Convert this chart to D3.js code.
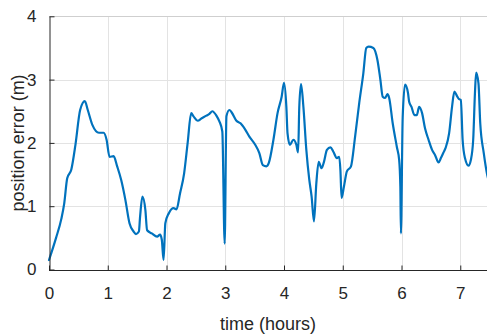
<!DOCTYPE html>
<html>
<head>
<meta charset="utf-8">
<script src="https://cdn.jsdelivr.net/npm/d3@7"></script>
<style>
  html, body { margin: 0; padding: 0; background: #fff; }
  svg { display: block; }
  text { font-family: "Liberation Sans", Arial, Helvetica, sans-serif; fill: #262626; }
</style>
</head>
<body>
<svg id="chart" width="487" height="335"></svg>
<script>
// Elapsed time in hours
const hours = [
  0.00, 0.12, 0.21, 0.26, 0.31, 0.38, 0.45, 0.53, 0.61, 0.66, 0.74, 0.85, 0.93, 0.98,
  1.03, 1.10, 1.16, 1.23, 1.30, 1.37, 1.44, 1.48, 1.53, 1.55, 1.59, 1.64, 1.67, 1.75,
  1.84, 1.89, 1.92, 1.95, 1.98, 2.04, 2.12, 2.17, 2.23, 2.30, 2.36, 2.42, 2.46, 2.53,
  2.60, 2.68, 2.73, 2.78, 2.85, 2.90, 2.95, 2.99, 3.02, 3.07, 3.11, 3.19, 3.26, 3.34,
  3.41, 3.51, 3.58, 3.64, 3.70, 3.74, 3.82, 3.89, 3.96, 4.00, 4.04, 4.06, 4.10, 4.16,
  4.21, 4.24, 4.26, 4.29, 4.33, 4.38, 4.43, 4.47, 4.51, 4.55, 4.59, 4.64, 4.68, 4.73,
  4.79, 4.84, 4.90, 4.94, 4.96, 4.98, 5.02, 5.07, 5.14, 5.21, 5.28, 5.35, 5.40, 5.44,
  5.52, 5.59, 5.64, 5.68, 5.72, 5.76, 5.79, 5.85, 5.92, 5.96, 5.98, 5.99, 6.02, 6.06,
  6.11, 6.13, 6.17, 6.22, 6.26, 6.30, 6.35, 6.40, 6.46, 6.52, 6.57, 6.63, 6.67, 6.71,
  6.75, 6.81, 6.86, 6.90, 6.95, 6.98, 7.01, 7.04, 7.08, 7.14, 7.18, 7.22, 7.25, 7.27,
  7.31, 7.34, 7.40, 7.46, 7.50
];

// Position error in metres at each time
const positionError = [
  0.15, 0.50, 0.80, 1.05, 1.44, 1.58, 1.97, 2.52, 2.66, 2.52, 2.28, 2.16, 2.16, 2.05,
  1.78, 1.79, 1.63, 1.41, 1.10, 0.73, 0.60, 0.56, 0.60, 0.83, 1.15, 0.94, 0.62, 0.57,
  0.52, 0.55, 0.47, 0.15, 0.73, 0.89, 0.97, 0.95, 1.20, 1.52, 2.00, 2.47, 2.42, 2.35,
  2.39, 2.43, 2.46, 2.50, 2.43, 2.34, 2.18, 0.41, 2.42, 2.52, 2.48, 2.35, 2.31, 2.21,
  2.10, 1.97, 1.84, 1.65, 1.63, 1.68, 2.05, 2.47, 2.73, 2.95, 2.57, 2.15, 1.97, 2.05,
  1.97, 1.85, 2.57, 2.93, 2.57, 1.89, 1.42, 1.15, 0.76, 1.36, 1.70, 1.60, 1.70, 1.89,
  1.93, 1.86, 1.76, 1.78, 1.57, 1.13, 1.31, 1.55, 1.63, 2.10, 2.63, 3.10, 3.50, 3.52,
  3.50, 3.31, 3.00, 2.73, 2.71, 2.77, 2.71, 2.31, 1.94, 1.73, 1.31, 0.57, 2.40, 2.92,
  2.79, 2.65, 2.57, 2.44, 2.44, 2.57, 2.47, 2.23, 2.05, 1.89, 1.81, 1.69, 1.76, 1.84,
  1.92, 2.15, 2.57, 2.81, 2.73, 2.69, 2.68, 2.05, 1.76, 1.64, 1.73, 2.05, 2.79, 3.11,
  2.94, 2.31, 1.84, 1.49, 1.35
];

const xTicks = [0, 1, 2, 3, 4, 5, 6, 7];
const yTicks = [0, 1, 2, 3, 4];
const xTitle = "time (hours)";
const yTitle = "position error (m)";

const svg = d3.select("#chart");
const mLeft = 49, mRight = 487, mTop = 16.3, mBottom = 269.5;

const x = d3.scaleLinear().domain([0, 7.455]).range([mLeft, mRight]);
const y = d3.scaleLinear().domain([0, 4]).range([mBottom, mTop]);

// Grid
const grid = svg.append("g").attr("stroke", "#e3e3e3").attr("stroke-width", 1);
grid.selectAll("line.v").data(xTicks.filter(d => d > 0)).join("line")
  .attr("x1", d => Math.round(x(d)) + 0.5).attr("x2", d => Math.round(x(d)) + 0.5)
  .attr("y1", mTop).attr("y2", mBottom);
grid.selectAll("line.h").data(yTicks.filter(d => d > 0 && d < 4)).join("line")
  .attr("y1", d => Math.round(y(d)) + 0.5).attr("y2", d => Math.round(y(d)) + 0.5)
  .attr("x1", mLeft).attr("x2", mRight);

// Top border of the axes box
svg.append("line")
  .attr("x1", mLeft).attr("x2", mRight + 5)
  .attr("y1", Math.round(mTop) + 0.5).attr("y2", Math.round(mTop) + 0.5)
  .attr("stroke", "#cfcfcf").attr("stroke-width", 1);

// Data line
const line = d3.line()
  .x((d, i) => x(hours[i]))
  .y(d => y(d))
  .curve(d3.curveMonotoneX);

svg.append("path")
  .datum(positionError)
  .attr("fill", "none")
  .attr("stroke", "#0072BD")
  .attr("stroke-width", 2.2)
  .attr("stroke-linejoin", "round")
  .attr("stroke-linecap", "round")
  .attr("d", line);

// Axes with inward ticks
const xAxis = d3.axisBottom(x).tickValues(xTicks).tickFormat(d3.format("d"))
  .tickSizeInner(-5).tickSizeOuter(0).tickPadding(16);
const yAxis = d3.axisLeft(y).tickValues(yTicks).tickFormat(d3.format("d"))
  .tickSizeInner(-5).tickSizeOuter(0).tickPadding(13);

const gx = svg.append("g").attr("transform", `translate(0,${Math.round(mBottom) + 0.5})`).call(xAxis);
const gy = svg.append("g").attr("transform", `translate(${Math.round(mLeft) + 0.5},0)`).call(yAxis);

[gx, gy].forEach(g => {
  g.select(".domain").attr("stroke", "#262626").attr("stroke-width", 1);
  g.selectAll(".tick line").attr("stroke", "#262626");
  g.selectAll(".tick text")
    .attr("font-size", 17)
    .attr("font-family", "'Liberation Sans', Arial, sans-serif")
    .attr("fill", "#262626");
});
gx.select(".domain").attr("d", `M${mLeft},0H${mRight}`);

// Axis titles
svg.append("text")
  .attr("x", (mLeft + mRight) / 2).attr("y", 330)
  .attr("text-anchor", "middle")
  .attr("font-size", 18)
  .text(xTitle);

svg.append("text")
  .attr("transform", `translate(24,${(mTop + mBottom) / 2}) rotate(-90)`)
  .attr("text-anchor", "middle")
  .attr("font-size", 18)
  .text(yTitle);
</script>
</body>
</html>
